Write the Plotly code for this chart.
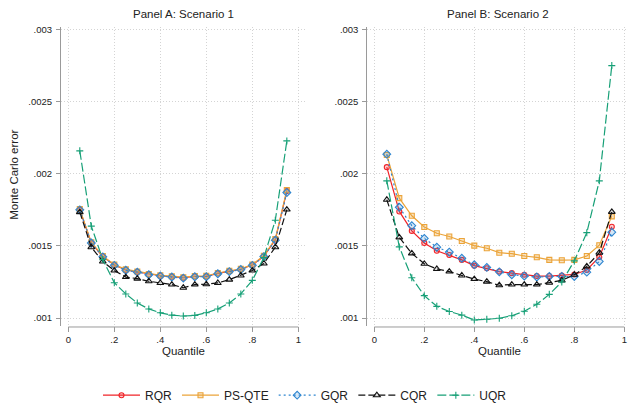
import plotly.graph_objects as go

# Quantile grid
quantiles = [0.05, 0.10, 0.15, 0.20, 0.25, 0.30, 0.35, 0.40, 0.45, 0.50,
             0.55, 0.60, 0.65, 0.70, 0.75, 0.80, 0.85, 0.90, 0.95]

# Panel A: Scenario 1
a_rqr = [0.00175, 0.00152, 0.001426, 0.001367, 0.001333, 0.00132, 0.001302, 0.001293, 0.001286, 0.001279,
         0.001288, 0.001288, 0.001309, 0.001324, 0.001338, 0.001367, 0.001428, 0.001543, 0.00188]
a_psqte = [0.001755, 0.001525, 0.00143, 0.00137, 0.001337, 0.001323, 0.001305, 0.001296, 0.00129, 0.001283,
           0.001291, 0.001292, 0.001312, 0.001327, 0.001341, 0.00137, 0.001432, 0.001548, 0.001888]
a_gqr = [0.00175, 0.00152, 0.001424, 0.001365, 0.001331, 0.001318, 0.0013, 0.001291, 0.001284, 0.001277,
         0.001286, 0.001286, 0.001307, 0.001322, 0.001336, 0.001365, 0.001426, 0.00154, 0.00187]
a_cqr = [0.001734, 0.001491, 0.001392, 0.001329, 0.001284, 0.001273, 0.001255, 0.001243, 0.001232, 0.00121,
         0.001232, 0.001234, 0.001243, 0.001266, 0.001295, 0.001329, 0.001378, 0.001491, 0.001752]
a_uqr = [0.002159, 0.001637, 0.001405, 0.001245, 0.001167, 0.001104, 0.001063, 0.001036, 0.00102, 0.001014,
         0.001018, 0.001036, 0.001063, 0.001104, 0.001167, 0.001261, 0.001419, 0.001678, 0.002228]

# Panel B: Scenario 2
b_rqr = [0.002046, 0.001739, 0.001604, 0.00152, 0.001466, 0.001437, 0.001403, 0.001363, 0.001345, 0.001322,
         0.001311, 0.0013, 0.001291, 0.001291, 0.001295, 0.001302, 0.001333, 0.001423, 0.001633]
b_psqte = [0.00213, 0.001831, 0.001709, 0.001631, 0.001588, 0.001565, 0.001534, 0.001502, 0.001484, 0.001453,
           0.001446, 0.00143, 0.001421, 0.001403, 0.001401, 0.001403, 0.00143, 0.001505, 0.001705]
b_gqr = [0.002136, 0.001768, 0.00164, 0.001552, 0.001491, 0.001457, 0.001414, 0.001369, 0.001351, 0.00132,
         0.0013, 0.001291, 0.001284, 0.001288, 0.001288, 0.001288, 0.001318, 0.001392, 0.001595]
b_cqr = [0.00182, 0.001559, 0.001448, 0.001376, 0.00134, 0.001322, 0.001295, 0.00127, 0.001252, 0.001227,
         0.001232, 0.001232, 0.001232, 0.001245, 0.001261, 0.0013, 0.001358, 0.001453, 0.001736]
b_uqr = [0.001951, 0.001493, 0.001279, 0.001155, 0.001081, 0.001045, 0.00102, 0.000986, 0.000991, 0.000998,
         0.001016, 0.001047, 0.001095, 0.001164, 0.00125, 0.001396, 0.001592, 0.001951, 0.00275]

x_ticks = [0, 0.2, 0.4, 0.6, 0.8, 1]
x_ticktext = ["0", ".2", ".4", ".6", ".8", "1"]
y_ticks = [0.001, 0.0015, 0.002, 0.0025, 0.003]
y_ticktext = [".001", ".0015", ".002", ".0025", ".003"]

series_names = ["RQR", "PS-QTE", "GQR", "CQR", "UQR"]

styles = {
    "RQR": dict(color="#F02429", symbol="circle", fill="rgba(240,36,41,0.22)", size=5, dash="solid"),
    "PS-QTE": dict(color="#EBA43A", symbol="square", fill="rgba(235,164,58,0.3)", size=5, dash="solid"),
    "GQR": dict(color="#2F86D0", symbol="diamond", fill="rgba(47,134,208,0.2)", size=6, dash="2px,3px"),
    "CQR": dict(color="#111111", symbol="triangle-up", fill="rgba(0,0,0,0.12)", size=6, dash="7px,3px"),
    "UQR": dict(color="#17A077", symbol="cross-thin", fill="#17A077", size=5, dash="9px,3px"),
}

panel_a = dict(zip(series_names, [a_rqr, a_psqte, a_gqr, a_cqr, a_uqr]))
panel_b = dict(zip(series_names, [b_rqr, b_psqte, b_gqr, b_cqr, b_uqr]))

W, H = 628, 410
fig = go.Figure()

for panel, (xa, ya), show in [(panel_a, ("x", "y"), True), (panel_b, ("x2", "y2"), False)]:
    for name in series_names:
        s = styles[name]
        fig.add_trace(go.Scatter(
            x=quantiles, y=panel[name], name=name, xaxis=xa, yaxis=ya,
            mode="lines+markers", showlegend=show, legendgroup=name,
            line=dict(color=s["color"], width=1.2, dash=s["dash"]),
            marker=dict(symbol=s["symbol"], size=s["size"], color=s["fill"],
                        line=dict(color=s["color"], width=1.1)),
            cliponaxis=False,
        ))

grid = dict(showgrid=True, gridcolor="#D4D4D4", gridwidth=1, griddash="1px,2px", zeroline=False)
axis_font = dict(family="Liberation Sans, Arial, sans-serif", size=9.5, color="#222222")

xa_common = dict(tickvals=x_ticks, ticktext=x_ticktext, ticks="outside", ticklen=5,
                 tickcolor="#9A9A9A", tickwidth=1, showline=False, tickfont=axis_font, **grid)
ya_common = dict(tickvals=y_ticks, ticktext=y_ticktext, ticks="outside", ticklen=4,
                 tickcolor="#9A9A9A", tickwidth=1, showline=True, linecolor="#9A9A9A",
                 linewidth=1, range=[0.000946, 0.0030155], tickfont=axis_font,
                 ticklabelstandoff=2, **grid)

fig.update_layout(
    width=W, height=H,
    margin=dict(l=0, r=0, t=0, b=0),
    paper_bgcolor="white", plot_bgcolor="white",
    font=dict(family="Liberation Sans, Arial, sans-serif", color="#222222"),
    xaxis=dict(domain=[61 / W, 305 / W], range=[-0.0317, 1.029], anchor="y", **xa_common),
    yaxis=dict(domain=[1 - 331.7 / H, 1 - 25 / H], anchor="x", **ya_common),
    xaxis2=dict(domain=[367.3 / W, 1.0], range=[-0.028, 1.0148], anchor="y2", **xa_common),
    yaxis2=dict(domain=[1 - 331.7 / H, 1 - 25 / H], anchor="x2", **ya_common),
    legend=dict(orientation="h", x=98 / W, xanchor="left", y=1 - 403 / H, yanchor="middle",
                font=dict(size=12, color="#222222"), itemwidth=37, bgcolor="rgba(0,0,0,0)"),
)

# Separate x-axis baselines spanning the 0..1 quantile range
for xr, yr in [("x", "y domain"), ("x2", "y2 domain")]:
    fig.add_shape(type="line", xref=xr, yref=yr, x0=0, x1=1, y0=-0.004, y1=-0.004,
                  line=dict(color="#9A9A9A", width=1))

title_font = dict(family="Liberation Sans, Arial, sans-serif", size=11.5, color="#222222")
annotations = [
    dict(text="Panel A: Scenario 1", x=183 / W, y=1 - 11 / H),
    dict(text="Panel B: Scenario 2", x=498 / W, y=1 - 11 / H),
    dict(text="Quantile", x=183.3 / W, y=1 - 358 / H),
    dict(text="Quantile", x=499.3 / W, y=1 - 358 / H),
]
for a in annotations:
    fig.add_annotation(xref="paper", yref="paper", xanchor="center", yanchor="middle",
                       showarrow=False, font=title_font, **a)
fig.add_annotation(text="Monte Carlo error", xref="paper", yref="paper", x=14.5 / W, y=1 - 177 / H,
                   xanchor="center", yanchor="middle", textangle=-90, showarrow=False, font=title_font)

fig.write_html("out.html")
